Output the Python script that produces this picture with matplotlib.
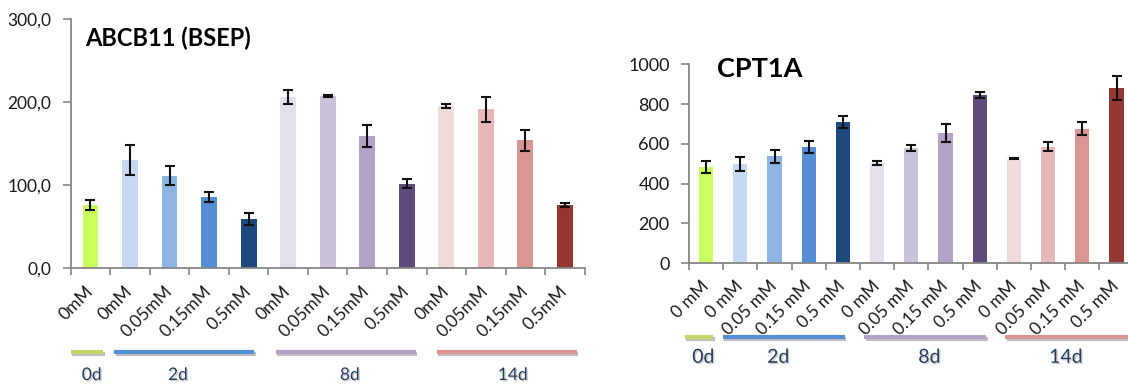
import matplotlib
matplotlib.use("Agg")
import matplotlib.pyplot as plt
import matplotlib.patheffects as pe
from matplotlib.transforms import blended_transform_factory
import numpy as np

plt.rcParams['font.family'] = ['Lato', 'DejaVu Sans']

# Conditions (shared by both panels)
groups = ["0d", "2d", "8d", "14d"]
conc_left = ["0mM", "0mM", "0.05mM", "0.15mM", "0.5mM", "0mM", "0.05mM", "0.15mM", "0.5mM",
             "0mM", "0.05mM", "0.15mM", "0.5mM"]
conc_right = ["0 mM", "0 mM", "0.05 mM", "0.15 mM", "0.5 mM", "0 mM", "0.05 mM", "0.15 mM",
              "0.5 mM", "0 mM", "0.05 mM", "0.15 mM", "0.5 mM"]

bar_colors = ["#C9FF5F", "#C6D9F1", "#8EB4E3", "#558ED5", "#1F497D",
              "#E6E0EC", "#CCC1DA", "#B3A2C7", "#604A7B",
              "#F2DCDB", "#E6B9B8", "#D99694", "#953735"]
group_colors = ["#C3D86C", "#558ED5", "#B3A2C7", "#D99694"]

# ABCB11 (BSEP) expression
bsep_mean = [76, 130, 111, 85.5, 59, 206, 207.5, 159, 101.5, 195, 191.5, 154, 75.5]
bsep_err = [6, 18, 11.5, 5.5, 7, 9, 1, 13, 5.5, 2.5, 15, 12.5, 2.5]

# CPT1A expression
cpt_mean = [483, 498, 538, 584, 710, 503, 580, 655, 845, 525, 585, 676, 881]
cpt_err = [32, 33, 33, 28, 32, 11, 14, 44, 14, 4, 22, 33, 62]

W, H = 1128, 385
fig = plt.figure(figsize=(W / 100, H / 100), dpi=100)

spine_col = "#868686"


def panel(rect, means, errs, labels, ylim, yticks, yfmt, title, title_pos, title_size,
          ytick_size, xtick_size, bar_w, line_y, label_y, label_size, spans, label_x, xpad):
    ax = fig.add_axes(rect)
    x = np.arange(len(means))
    ax.bar(x, means, width=bar_w, color=bar_colors, zorder=2)
    ax.errorbar(x, means, yerr=errs, fmt="none", ecolor="#111111", elinewidth=1.5,
                capsize=3.3, capthick=1.5, zorder=3)
    ax.set_xlim(-0.5, len(means) - 0.5)
    ax.set_ylim(*ylim)
    ax.set_yticks(yticks)
    ax.set_yticklabels([yfmt(v) for v in yticks], fontsize=ytick_size, color="#1a1a1a")
    ax.set_xticks(x)
    ax.set_xticklabels(labels, rotation=45, ha="right", va="center", rotation_mode="anchor",
                       fontsize=xtick_size, color="#1a1a1a")
    ax.set_xticks(np.arange(len(means) + 1) - 0.5, minor=True)
    ax.tick_params(axis="x", which="major", length=0, pad=xpad)
    ax.tick_params(axis="x", which="minor", length=5, color=spine_col, width=1.2)
    ax.tick_params(axis="y", length=6, color=spine_col, width=1.2, pad=8)
    for s in ("top", "right"):
        ax.spines[s].set_visible(False)
    for s in ("left", "bottom"):
        ax.spines[s].set_color(spine_col)
        ax.spines[s].set_linewidth(1.3)
    ax.text(title_pos[0], title_pos[1], title, transform=fig.transFigure, fontsize=title_size,
            fontweight="bold", va="center", ha="left", color="black")

    tr = blended_transform_factory(ax.transData, fig.transFigure)
    for g, (x0, x1), lx, col in zip(groups, spans, label_x, group_colors):
        ax.plot([x0, x1], [line_y, line_y], transform=tr, color=col, lw=3,
                solid_capstyle="butt", clip_on=False,
                path_effects=[pe.SimpleLineShadow(offset=(1, -1.5), alpha=0.25), pe.Normal()])
        ax.text(lx, label_y, g, transform=tr, ha="center", va="center",
                fontsize=label_size, color="#263d5c",
                path_effects=[pe.withSimplePatchShadow(offset=(1, -1), alpha=0.2)])
    return ax


panel([70.7 / W, (H - 268) / H, 514 / W, 249 / H], bsep_mean, bsep_err, conc_left,
      (0, 300), [0, 100, 200, 300], lambda v: f"{v:.1f}".replace(".", ","),
      "ABCB11 (BSEP)", (85 / W, (H - 38) / H), 17, 12.5, 12.5, 0.40,
      (H - 351.7) / H, (H - 375) / H, 12.5,
      [(-0.49, 0.32), (0.6, 4.14), (4.68, 8.23), (8.76, 12.3)],
      [0.03, 2.21, 6.56, 10.68], 15)

panel([689 / W, (H - 263) / H, 444.6 / W, 198.7 / H], cpt_mean, cpt_err, conc_right,
      (0, 1000), [0, 200, 400, 600, 800, 1000], lambda v: f"{v:d}",
      "CPT1A", (717 / W, (H - 69) / H), 19.5, 13, 12.5, 0.41,
      (H - 336.7) / H, (H - 357.3) / H, 14,
      [(-0.62, 0.21), (0.48, 4.06), (4.63, 8.19), (8.75, 12.33)],
      [-0.08, 2.11, 6.53, 10.52], 15)

fig.savefig("out.png", dpi=100)
